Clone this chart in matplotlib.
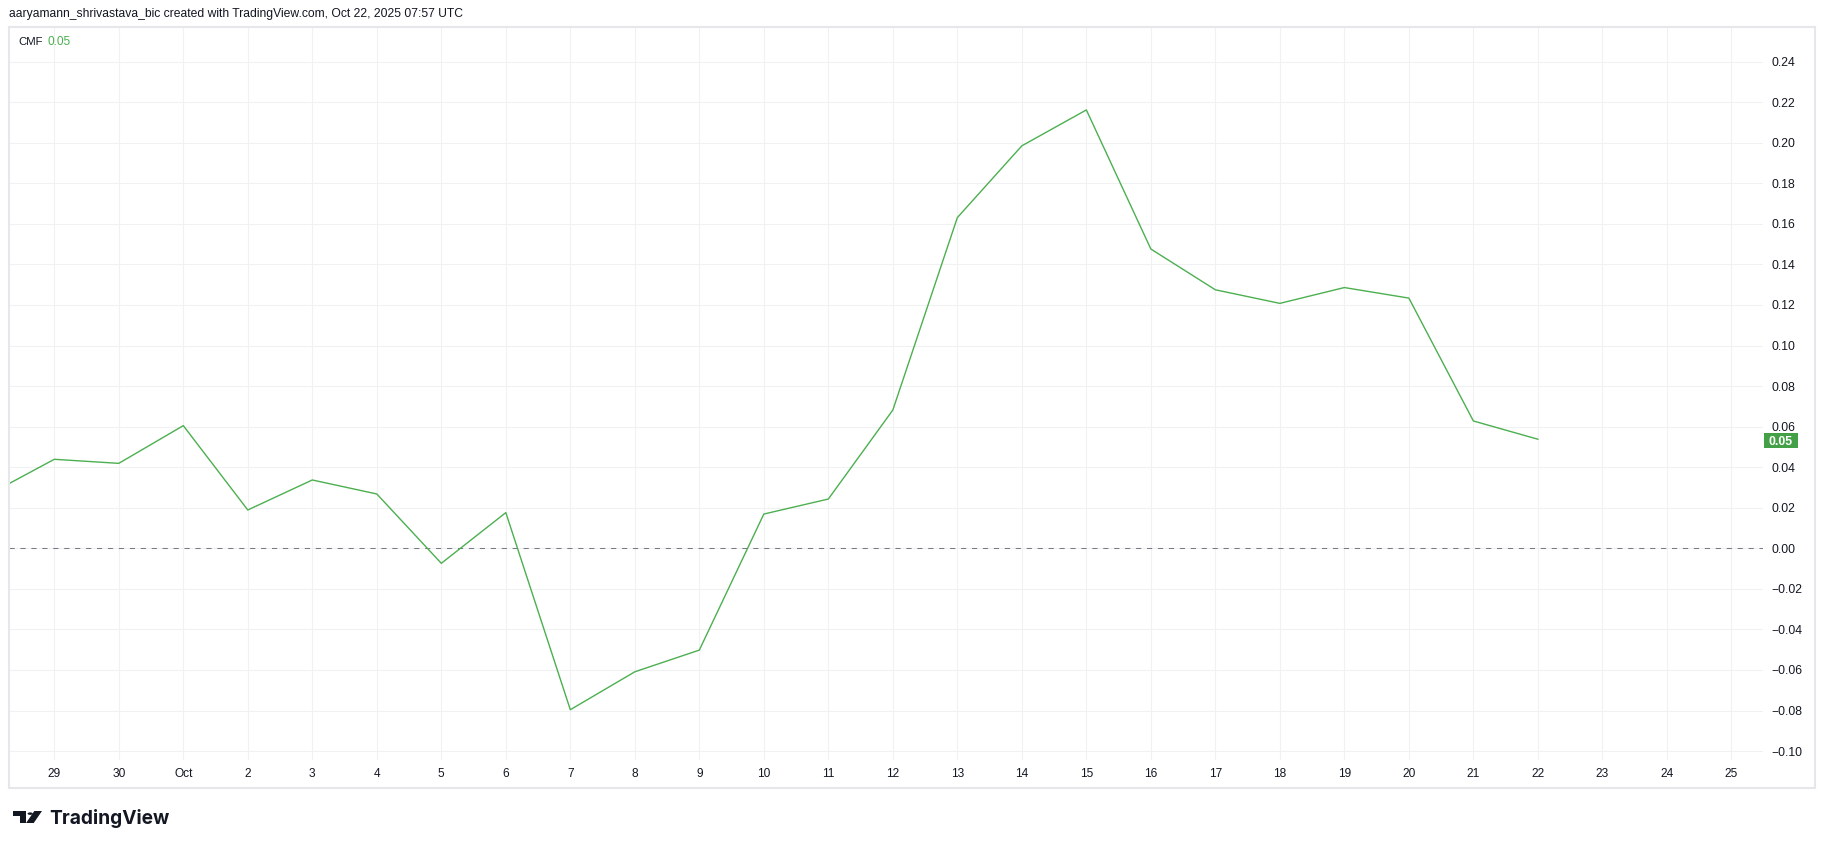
import matplotlib
matplotlib.use("Agg")
import matplotlib.pyplot as plt
import matplotlib.dates as mdates
from matplotlib.patches import Rectangle, Polygon, Circle
from matplotlib.ticker import FixedLocator, FuncFormatter
import pandas as pd

# ---------------- data ----------------
dates = ["2025-09-28", "2025-09-29", "2025-09-30", "2025-10-01", "2025-10-02",
         "2025-10-03", "2025-10-04", "2025-10-05", "2025-10-06", "2025-10-07",
         "2025-10-08", "2025-10-09", "2025-10-10", "2025-10-11", "2025-10-12",
         "2025-10-13", "2025-10-14", "2025-10-15", "2025-10-16", "2025-10-17",
         "2025-10-18", "2025-10-19", "2025-10-20", "2025-10-21", "2025-10-22"]
cmf = [0.0268, 0.0439, 0.0419, 0.0605, 0.0189,
       0.0337, 0.0268, -0.0074, 0.0176, -0.0796,
       -0.0609, -0.0502, 0.0169, 0.0243, 0.0682,
       0.1631, 0.1985, 0.2162, 0.1476, 0.1275,
       0.1208, 0.1286, 0.1234, 0.0628, 0.0538]

tick_dates = pd.date_range("2025-09-29", "2025-10-25", freq="D")
tick_labels = ["29", "30", "Oct", "2", "3", "4", "5", "6", "7", "8", "9", "10",
               "11", "12", "13", "14", "15", "16", "17", "18", "19", "20", "21",
               "22", "23", "24", "25"]
y_ticks = [-0.10, -0.08, -0.06, -0.04, -0.02, 0.00, 0.02, 0.04, 0.06, 0.08,
           0.10, 0.12, 0.14, 0.16, 0.18, 0.20, 0.22, 0.24]

header = "aaryamann_shrivastava_bic created with TradingView.com, Oct 22, 2025 07:57 UTC"
indicator_name = "CMF"

# ---------------- style ----------------
W, H = 1825, 849
DPI = 100
GREEN = "#4caf50"
BOX_GREEN = "#43a047"
TEXT = "#131722"
GRID = "#f0f1f3"
FRAME = "#e6e7ea"
FONT = "Liberation Sans"

plt.rcParams["font.family"] = [FONT, "DejaVu Sans"]

fig = plt.figure(figsize=(W / DPI, H / DPI), dpi=DPI, facecolor="white")


def fx(px):
    return px / W


def fy(py):
    return 1 - py / H


# plot pane in pixels
left_px, right_px, top_px, bottom_px = 9, 1763, 27, 760
ax = fig.add_axes([fx(left_px), fy(bottom_px), fx(right_px - left_px),
                   (bottom_px - top_px) / H])
ax.set_facecolor("white")

x = mdates.date2num(pd.to_datetime(dates))
x0 = mdates.date2num(pd.Timestamp("2025-09-29"))
ax.set_xlim(x0 - 0.702, x0 + 26.49)
ax.set_ylim(-0.1044, 0.2571)

# grid
ax.xaxis.set_major_locator(FixedLocator(mdates.date2num(tick_dates)))
ax.set_xticklabels(tick_labels)
ax.yaxis.set_major_locator(FixedLocator(y_ticks))
ax.yaxis.set_major_formatter(FuncFormatter(lambda v, p: f"{v:.2f}".replace("-", "\u2212")))
ax.grid(True, color=GRID, linewidth=0.75, zorder=0)
ax.set_axisbelow(True)

ax.yaxis.tick_right()
ax.tick_params(axis="y", length=0, pad=5.8, labelsize=8.8, labelcolor=TEXT)
ax.tick_params(axis="x", length=0, pad=6, labelsize=8.6, labelcolor=TEXT)
for lbl in ax.get_yticklabels():
    lbl.set_horizontalalignment("left")
for s in ax.spines.values():
    s.set_visible(False)

# zero line
ax.axhline(0.0, color="#787b86", linewidth=0.75, linestyle=(0, (5.0, 5.5)), zorder=2)

# CMF line
ax.plot(x, cmf, color=GREEN, linewidth=1.0, zorder=3, clip_on=True)

# last value label (box sized in pixels, positioned through the data transform)
last = cmf[-1]
fig.canvas.draw()
y_pix = ax.transData.transform((x0, last))[1]  # display pixels from bottom
box_h, box_w = 15, 34
fig.add_artist(Rectangle((fx(1764), (y_pix - box_h / 2 - 1) / H), fx(box_w), box_h / H,
                         transform=fig.transFigure, fc=BOX_GREEN, ec="none", zorder=5))
fig.text(fx(1781), (y_pix - 1 - 4.5) / H, f"{last:.2f}", ha="center", va="baseline",
         fontsize=8.8, fontweight="bold", color="white", zorder=6)

# frame around chart
fig.add_artist(Rectangle((fx(9), fy(788)), fx(1815 - 9), (788 - 27) / H,
                         transform=fig.transFigure, fill=False, edgecolor=FRAME,
                         linewidth=1.5))

# header
fig.text(fx(9), fy(14), header, fontsize=8.7, color=TEXT, ha="left", va="center")

# legend
fig.text(fx(18), fy(42), indicator_name, fontsize=8.2, color=TEXT, ha="left", va="center")
fig.text(fx(47), fy(42), f"{last:.2f}", fontsize=8.6, color=GREEN, ha="left", va="center")

# TradingView logo
lx, ly, lw_, lh = 12.5, 811, 29.5, 12  # pixel box of icon


def P(u, v):
    return (fx(lx + u * lw_), fy(ly + (1 - v) * lh))


logo_c = "#131722"
fig.add_artist(Polygon([P(0, 1), P(0.46, 1), P(0.46, 0), P(0.24, 0), P(0.24, 0.6), P(0, 0.6)],
                       closed=True, transform=fig.transFigure, fc=logo_c, ec="none"))
fig.add_artist(Circle(P(0.6, 0.78), radius=fx(lh * 0.22), transform=fig.transFigure,
                      fc=logo_c, ec="none"))
fig.add_artist(Polygon([P(0.74, 1), P(1.0, 1), P(0.72, 0), P(0.46, 0)],
                       closed=True, transform=fig.transFigure, fc=logo_c, ec="none"))
fig.text(fx(49), fy(824), "TradingView", fontsize=13.8, fontweight="bold", color=logo_c,
         ha="left", va="baseline", family=["Inter", "DejaVu Sans"])

fig.savefig("out.png", dpi=DPI, facecolor="white")
